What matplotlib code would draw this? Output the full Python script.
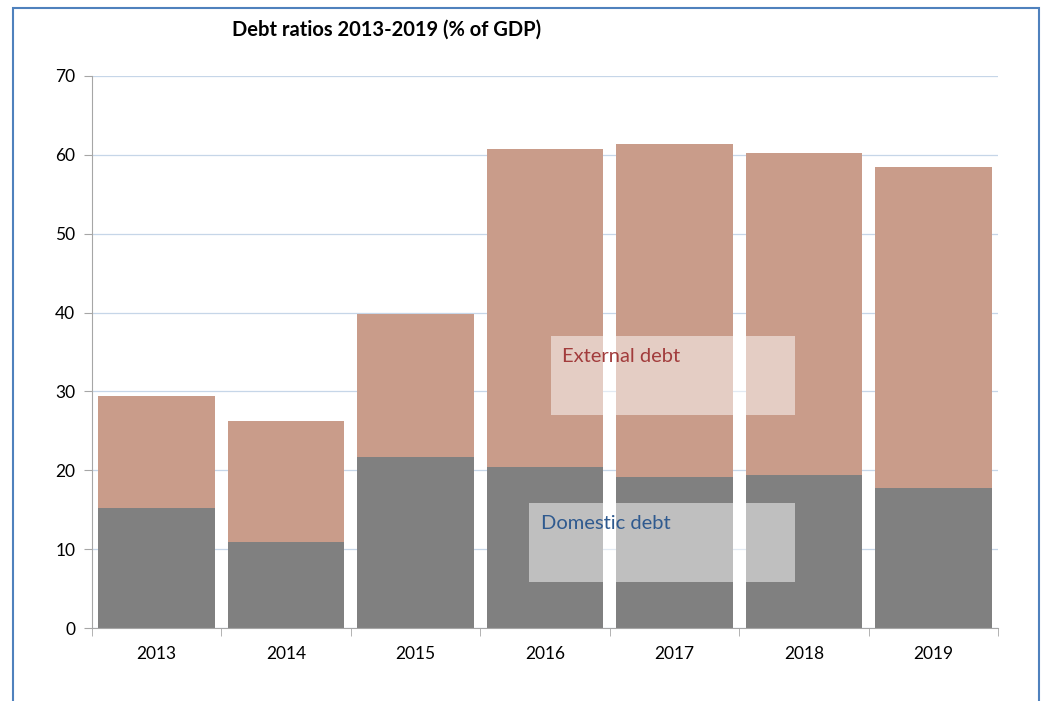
import matplotlib.pyplot as plt
from matplotlib.patches import Rectangle

years = ["2013", "2014", "2015", "2016", "2017", "2018", "2019"]
domestic = [15.2, 10.9, 21.7, 20.4, 19.1, 19.4, 17.8]
total = [29.4, 26.2, 39.8, 60.7, 61.4, 60.2, 58.5]
external = [t - d for t, d in zip(total, domestic)]

plt.rcParams['font.family'] = ['Lato', 'DejaVu Sans']

fig = plt.figure(figsize=(10.41, 7.01), dpi=100)
ax = fig.add_axes([0.0884, 0.1041, 0.8703, 0.7875])

x = range(len(years))
ax.bar(x, domestic, width=0.9, color="#808080", zorder=2)
ax.bar(x, external, bottom=domestic, width=0.9, color="#c99c8a", zorder=2)

ax.set_xlim(-0.5, len(years) - 0.5)
ax.set_ylim(0, 70)
ax.set_yticks(range(0, 71, 10))
ax.yaxis.grid(True, color="#c6d6e8", lw=0.9, zorder=0)
ax.set_axisbelow(True)

ax.set_xticks(x)
ax.set_xticklabels(years, fontsize=12.5)
ax.set_xticks([i - 0.5 for i in range(len(years) + 1)], minor=True)
ax.tick_params(axis='x', which='major', length=0, pad=13)
ax.tick_params(axis='x', which='minor', length=6, color="#a6a6a6", direction='out')
ax.tick_params(axis='y', length=6, color="#a6a6a6", labelsize=12.5, pad=6)

for s in ["top", "right"]:
    ax.spines[s].set_visible(False)
for s in ["left", "bottom"]:
    ax.spines[s].set_color("#a6a6a6")

# semi-transparent label boxes
ax.add_patch(Rectangle((3.046, 27.0), 1.886, 10.0, facecolor="white", alpha=0.5,
                       edgecolor="none", zorder=3))
ax.add_patch(Rectangle((2.876, 5.83), 2.056, 10.0, facecolor="white", alpha=0.5,
                       edgecolor="none", zorder=3))
ax.text(3.13, 34.4, "External debt", color="#a23c3c", fontsize=14.5, va="center", zorder=4)
ax.text(2.97, 13.2, "Domestic debt", color="#2f5a8f", fontsize=14.5, va="center", zorder=4)

fig.text(0.371, 0.957, "Debt ratios 2013-2019 (% of GDP)", fontsize=14.5,
         fontweight="bold", ha="center", va="center")

# outer frame
fig.patches.append(Rectangle((13 / 1041, -0.05), 1026 / 1041, 1.05 - 8 / 701,
                             transform=fig.transFigure, fill=False,
                             edgecolor="#4f81bd", lw=1.5))

fig.savefig("out.png", dpi=100)
